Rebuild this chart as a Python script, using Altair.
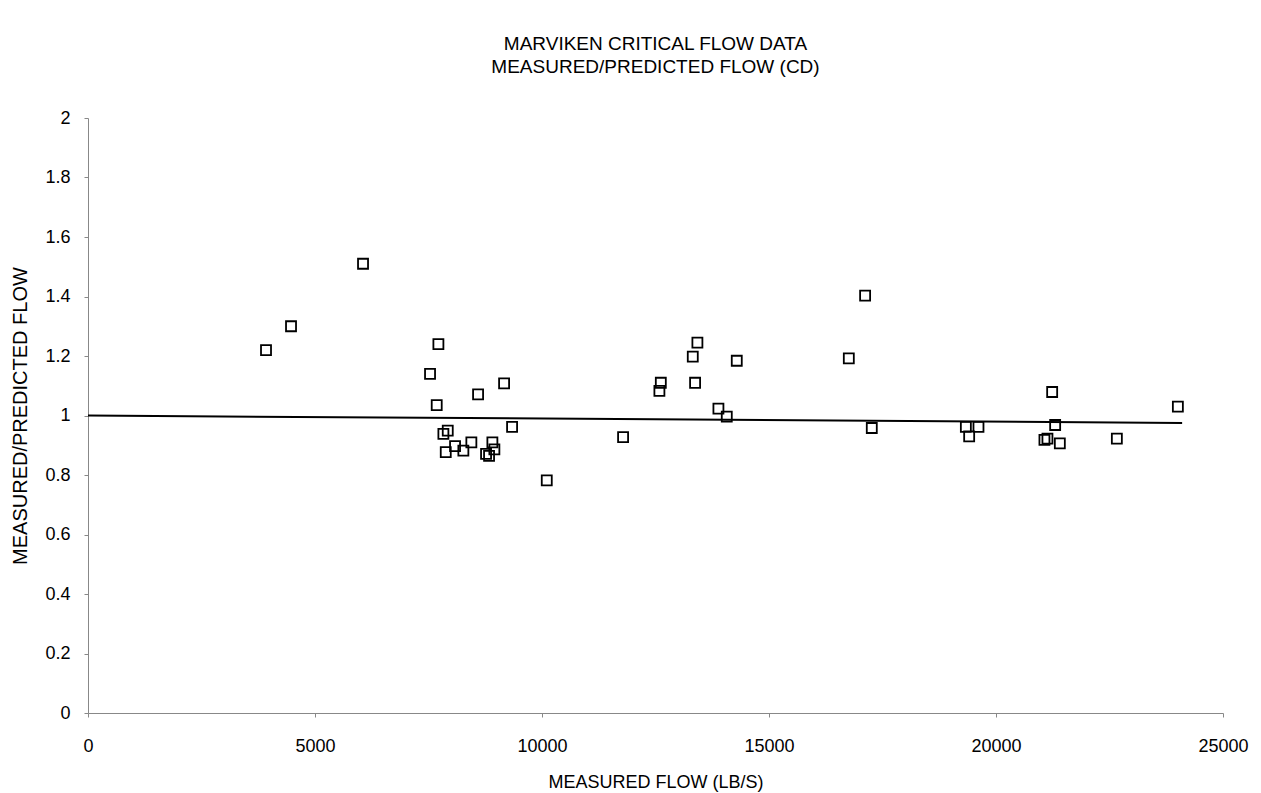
import altair as alt
import pandas as pd

flow = [3921, 4472, 6058, 7534, 7718, 7681, 7924, 7828, 7880, 8085,
        8268, 8444, 8592, 8907, 8951, 8768, 8834, 9165, 9341, 10105,
        11786, 12617, 12586, 13321, 13372, 13423, 13886, 14070, 14290, 16758,
        17117, 17264, 19336, 19614, 19409, 21237, 21303, 21067, 21133, 21406,
        22662, 24006]
ratio = [1.22, 1.30, 1.51, 1.14, 1.24, 1.035, 0.949, 0.938, 0.877, 0.897,
         0.882, 0.910, 1.071, 0.910, 0.886, 0.871, 0.864, 1.108, 0.962, 0.782,
         0.927, 1.110, 1.083, 1.198, 1.110, 1.245, 1.023, 0.996, 1.184, 1.192,
         1.403, 0.958, 0.962, 0.962, 0.930, 1.079, 0.968, 0.918, 0.922, 0.906,
         0.922, 1.030]

line_x = [0, 24100]
line_y = [1.0, 0.975]

pts = pd.DataFrame({"flow": flow, "ratio": ratio})
ln = pd.DataFrame({"flow": line_x, "ratio": line_y})

FONT = "Liberation Sans"

xscale = alt.Scale(domain=[0, 25000], nice=False)
yscale = alt.Scale(domain=[0, 2], nice=False)

xaxis = alt.Axis(title="MEASURED FLOW (LB/S)", values=[0, 5000, 10000, 15000, 20000, 25000],
                 format="d", grid=False, labelFontSize=18, titleFontSize=18,
                 labelFont=FONT, titleFont=FONT, labelColor="black", titleColor="black",
                 titleFontWeight="normal", domainColor="#888", tickColor="#888",
                 tickSize=4, labelPadding=20, titlePadding=18, labelFlush=False)
yaxis = alt.Axis(title="MEASURED/PREDICTED FLOW", values=[0, 0.2, 0.4, 0.6, 0.8, 1, 1.2, 1.4, 1.6, 1.8, 2],
                 format="~g", grid=False, labelFontSize=18, titleFontSize=20,
                 labelFont=FONT, titleFont=FONT, labelColor="black", titleColor="black",
                 titleFontWeight="normal", domainColor="#888", tickColor="#888",
                 tickSize=4, labelPadding=14, titlePadding=14, labelFlush=False)

points = alt.Chart(pts).mark_point(shape="square", filled=False, color="black",
                                   size=100, strokeWidth=1.8, opacity=1).encode(
    x=alt.X("flow:Q", scale=xscale, axis=xaxis),
    y=alt.Y("ratio:Q", scale=yscale, axis=yaxis),
)

trend = alt.Chart(ln).mark_line(color="black", strokeWidth=2).encode(
    x=alt.X("flow:Q", scale=xscale),
    y=alt.Y("ratio:Q", scale=yscale),
)

chart = alt.layer(trend, points).properties(
    width=1135, height=595,
    background="white",
    title=alt.TitleParams(["MARVIKEN CRITICAL FLOW DATA", "MEASURED/PREDICTED FLOW (CD)"],
                          font=FONT, fontSize=19, fontWeight="normal", color="black",
                          lineHeight=23, anchor="middle", offset=32),
    autosize=alt.AutoSizeParams(type="none"),
    padding={"left": 88, "top": 118, "right": 38, "bottom": 80},
).configure_view(strokeWidth=0, stroke="transparent")

chart.save("out.html", embed_options={"renderer": "svg", "actions": False})
